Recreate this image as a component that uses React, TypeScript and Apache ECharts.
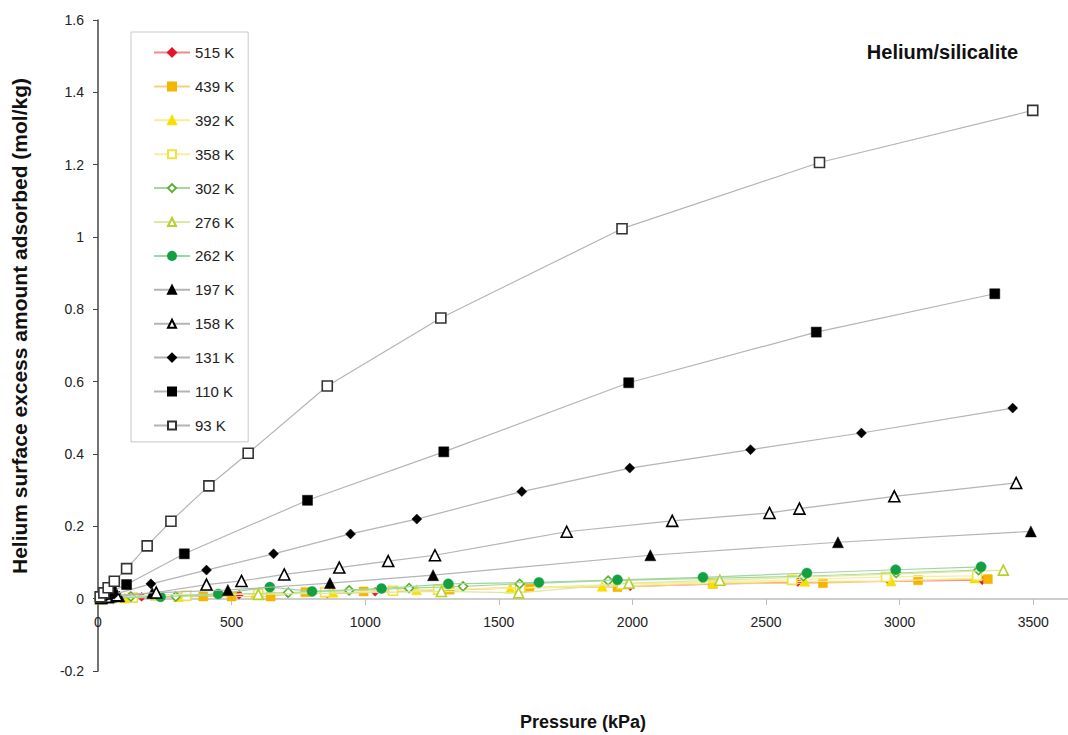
import React, { useEffect, useRef } from "react";
import * as echarts from "echarts";

// [pressure kPa, amount mol/kg]
const s515 = [[20,0.001],[163,0.005],[315,0.005],[528,0.011],[710,0.016],[858,0.014],[1037,0.019],[1578,0.030],[1992,0.034],[2619,0.046],[2962,0.048],[3309,0.051]];
const s439 = [[30,0.001],[394,0.006],[500,0.006],[646,0.006],[776,0.018],[994,0.020],[1316,0.025],[1615,0.032],[1944,0.032],[2301,0.041],[2713,0.043],[3069,0.051],[3330,0.054]];
const s392 = [[100,0.002],[300,0.006],[590,0.015],[880,0.018],[1192,0.025],[1543,0.029],[1887,0.034],[2300,0.044],[2645,0.048],[2968,0.049],[3280,0.057]];
const s358 = [[130,0.003],[330,0.008],[600,0.013],[850,0.018],[1104,0.022],[1273,0.025],[1580,0.030],[1960,0.040],[2598,0.052],[2949,0.060],[3290,0.063]];
const s302 = [[5,0.0],[123,0.006],[291,0.006],[712,0.017],[940,0.023],[1164,0.029],[1366,0.034],[1578,0.041],[1909,0.050],[2640,0.062],[2987,0.071],[3295,0.079]];
const s276 = [[10,0.0],[219,0.011],[600,0.012],[1285,0.020],[1574,0.016],[1987,0.043],[2327,0.051],[3388,0.079]];
const s262 = [[20,0.001],[60,0.002],[234,0.005],[450,0.013],[643,0.032],[801,0.020],[1061,0.028],[1311,0.041],[1650,0.045],[1944,0.052],[2264,0.059],[2653,0.071],[2985,0.080],[3305,0.088]];
const s197 = [[15,0.001],[40,0.003],[80,0.006],[203,0.016],[486,0.024],[868,0.043],[1254,0.065],[2067,0.120],[2769,0.156],[3491,0.186]];
const s158 = [[12,0.002],[35,0.005],[70,0.009],[218,0.017],[406,0.039],[537,0.049],[697,0.067],[903,0.086],[1086,0.104],[1261,0.120],[1754,0.185],[2149,0.215],[2513,0.237],[2625,0.249],[2980,0.283],[3436,0.320]];
const s131 = [[10,0.002],[30,0.006],[60,0.012],[198,0.041],[406,0.079],[657,0.124],[945,0.179],[1193,0.220],[1586,0.296],[1990,0.361],[2442,0.412],[2857,0.458],[3423,0.527]];
const s110 = [[10,0.004],[28,0.011],[50,0.020],[107,0.039],[323,0.124],[784,0.272],[1294,0.406],[1986,0.597],[2688,0.737],[3356,0.843]];
const s93 = [[8,0.005],[22,0.016],[38,0.030],[61,0.048],[107,0.083],[184,0.146],[273,0.214],[415,0.312],[562,0.402],[858,0.588],[1283,0.776],[1961,1.023],[2700,1.206],[3498,1.350]];

const seriesNames = ["515 K","439 K","392 K","358 K","302 K","276 K","262 K","197 K","158 K","131 K","110 K","93 K"];
const seriesData = [s515,s439,s392,s358,s302,s276,s262,s197,s158,s131,s110,s93];

const xTicks = { min: 0, max: 3630, interval: 500 };
const yTicks = { min: -0.2, max: 1.6, interval: 0.2 };

type Sty = { symbol: string; size: number; fill: string; border: string; line: string };
const styles: Sty[] = [
  { symbol: "diamond", size: 9, fill: "#e3142c", border: "#e3142c", line: "#f08a8a" },
  { symbol: "rect", size: 9, fill: "#f4b400", border: "#f4b400", line: "#f6cf80" },
  { symbol: "triangle", size: 10, fill: "#f7df00", border: "#f7df00", line: "#f6ec9a" },
  { symbol: "rect", size: 9, fill: "#ffffff", border: "#efe23a", line: "#f6ef9c" },
  { symbol: "diamond", size: 9, fill: "#ffffff", border: "#5cb030", line: "#a8d898" },
  { symbol: "triangle", size: 10, fill: "#ffffff", border: "#b4d22a", line: "#dce9a0" },
  { symbol: "circle", size: 10, fill: "#12a040", border: "#12a040", line: "#9fd4a6" },
  { symbol: "triangle", size: 11, fill: "#000000", border: "#000000", line: "#b4b4b4" },
  { symbol: "triangle", size: 11, fill: "#ffffff", border: "#000000", line: "#b4b4b4" },
  { symbol: "diamond", size: 10, fill: "#000000", border: "#000000", line: "#b4b4b4" },
  { symbol: "rect", size: 10, fill: "#000000", border: "#000000", line: "#b4b4b4" },
  { symbol: "rect", size: 10, fill: "#ffffff", border: "#333333", line: "#b4b4b4" },
];

const FONT = "'Liberation Sans', Arial, sans-serif";

export default function App() {
  const ref = useRef<HTMLDivElement>(null);
  useEffect(() => {
    document.body.style.margin = "0";
    const chart = echarts.init(ref.current!, null, { renderer: "svg" });
    const series = seriesNames.map((name, i) => {
      const st = styles[i];
      return {
        name,
        type: "line",
        data: seriesData[i],
        symbol: st.symbol,
        symbolSize: st.size,
        showAllSymbol: true,
        lineStyle: { color: st.line, width: 1.2 },
        itemStyle: { color: st.fill, borderColor: st.border, borderWidth: st.fill === "#ffffff" ? 1.6 : 0.5 },
        emphasis: { disabled: true },
        z: 2 + i,
      };
    });
    chart.setOption({
      animation: false,
      backgroundColor: "#ffffff",
      textStyle: { fontFamily: FONT },
      grid: { left: 98, right: 0, top: 20, bottom: 64, containLabel: false },
      xAxis: {
        type: "value",
        min: xTicks.min,
        max: xTicks.max,
        interval: xTicks.interval,
        position: "bottom",
        offset: -72,
        axisLine: { onZero: false, lineStyle: { color: "#bdbdbd", width: 1.5 } },
        axisTick: { show: true, length: 6, lineStyle: { color: "#bdbdbd" } },
        axisLabel: {
          fontSize: 14,
          color: "#222",
          margin: 16,
          showMaxLabel: false,
          fontFamily: FONT,
          formatter: (v: number) => String(v),
        },
        splitLine: { show: false },
      },
      yAxis: {
        type: "value",
        min: yTicks.min,
        max: yTicks.max,
        interval: yTicks.interval,
        axisLine: { show: true, lineStyle: { color: "#444", width: 1.5 } },
        axisTick: { show: true, length: 5, lineStyle: { color: "#444" } },
        axisLabel: { fontSize: 14, color: "#222", margin: 14, fontFamily: FONT },
        splitLine: { show: false },
      },
      legend: {
        orient: "vertical",
        left: 131,
        top: 32,
        data: seriesNames,
        itemWidth: 36,
        itemHeight: 10,
        itemGap: 18.9,
        padding: [13, 14, 9, 22],
        borderColor: "#c8c8c8",
        borderWidth: 1,
        textStyle: { fontSize: 15, color: "#222", fontFamily: FONT, lineHeight: 14 },
        selectedMode: false,
      },
      graphic: [
        {
          type: "text",
          x: 1018,
          y: 52,
          style: { text: "Helium/silicalite", fill: "#111", align: "right", verticalAlign: "middle", font: `bold 20px ${FONT}` },
        },
        {
          type: "text",
          x: 583,
          y: 722,
          style: { text: "Pressure (kPa)", fill: "#111", align: "center", verticalAlign: "middle", font: `bold 18px ${FONT}` },
        },
        {
          type: "text",
          x: 19,
          y: 326,
          rotation: Math.PI / 2,
          style: { text: "Helium surface excess amount adsorbed (mol/kg)", fill: "#111", align: "center", verticalAlign: "middle", font: `bold 21px ${FONT}` },
        },
      ],
      series,
    });
    return () => chart.dispose();
  }, []);
  return <div ref={ref} style={{ width: 1068, height: 735 }} />;
}
